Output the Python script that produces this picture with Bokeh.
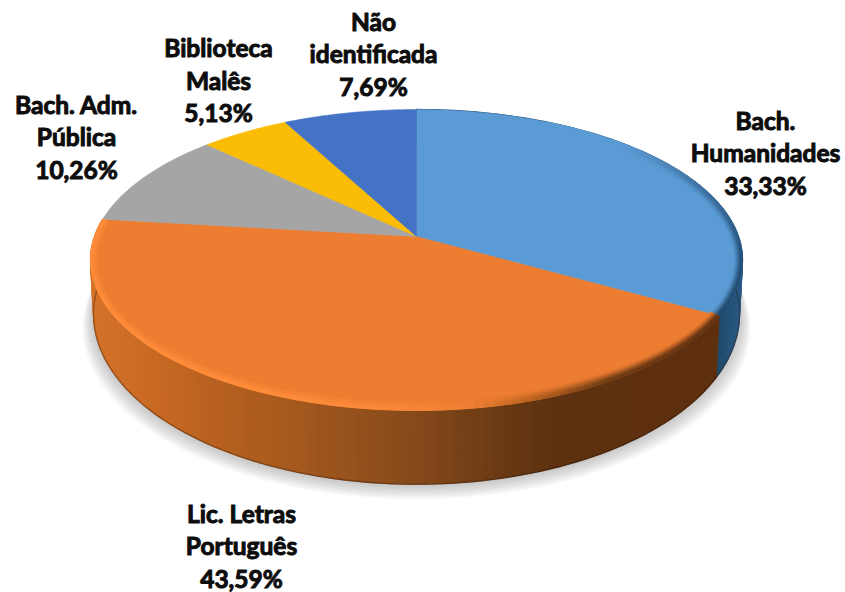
import numpy as np
from bokeh.plotting import figure
from bokeh.models import Range1d, ColumnDataSource
from bokeh.core.properties import value
from bokeh.embed import file_html
from bokeh.resources import INLINE

categories = ["Bach. Humanidades", "Lic. Letras Português", "Bach. Adm. Pública", "Biblioteca Malês", "Não identificada"]
percents = [33.33, 43.59, 10.26, 5.13, 7.69]
percent_labels = ["33,33%", "43,59%", "10,26%", "5,13%", "7,69%"]
label_lines = [["Bach.", "Humanidades"], ["Lic. Letras", "Português"], ["Bach. Adm.", "Pública"], ["Biblioteca", "Malês"], ["Não", "identificada"]]
slice_colors = ["#5B9BD5", "#ED7D31", "#A5A5A5", "#FBBC05", "#4472C4"]
# label layout: centre x and y of the first line, in page pixels
label_cx = [765, 241, 76, 218, 373]
label_y0 = [119.5, 512.5, 103.5, 47, 20.5]
LINE_STEP = 32.6

W, H = 845, 592
CX, K = 416.0, 0.156
TOP = dict(cy=236.0, rx=322.0, ry=146.8)
BOT = dict(cy=287.0, rx=319.0, ry=166.0)
EC_Y = 259.5


def hex2rgb(h):
    return np.array([int(h[i:i + 2], 16) for i in (1, 3, 5)], float)


def rgb2hex(c):
    return "#%02x%02x%02x" % tuple(int(round(v)) for v in c)


def ramp(t, ts, cols):
    arr = np.array([hex2rgb(c) for c in cols])
    return np.array([np.interp(t, ts, arr[:, i]) for i in range(3)])


def proj(deg, plane):
    a = np.radians(np.asarray(deg, float))
    u, v = np.sin(a), -np.cos(a)
    w = 1 - K * v
    return CX + plane["rx"] * u / w, plane["cy"] + plane["ry"] * v / w


edges = np.concatenate([[0], np.cumsum(percents)]) / sum(percents) * 360.0

# side shading along x (page pixels)
OR_SIDE_X = [90, 150, 210, 300, 400, 500, 550, 720]
OR_SIDE_C = ["#D4722A", "#C96A24", "#B8611F", "#A3581E", "#8A4B1B", "#6A3A14", "#5E3110", "#5E3010"]
OR_RIM_X = [90, 260, 400, 470, 535, 610, 720]
OR_RIM_C = ["#FF8D3A", "#FF8D3A", "#F98838", "#EF7F33", "#B5601F", "#6A3813", "#5E3010"]
BL_SIDE_X = [716, 742]
BL_SIDE_C = ["#1F4868", "#2A5A86"]
BL_RIM_A = [25, 45, 70, 95, 120]
BL_RIM_C = ["#5B9BD5", "#5B9BD5", "#3D6F9E", "#24507A", "#1F4868"]

# soft shadow: opaque rings, outermost (palest) first
SH_STEPS = 12
sh_x, sh_y, sh_c = [], [], []
ang = np.arange(0, 360, 2.0)
bx, by = proj(ang, BOT)
for i in range(SH_STEPS - 1, -1, -1):
    f = i / (SH_STEPS - 1)
    sh_x.append([float(v) for v in CX + (bx - CX) * (1 + 0.032 * f)])
    sh_y.append([float(v) for v in by + 1.0 + 13.5 * f])
    sh_c.append(rgb2hex(ramp(f, [0, 0.5, 1], ["#C8C8C8", "#DEDEDE", "#F9F9F9"])))

# side quads
sd_x, sd_y, sd_c = [], [], []
edge_x, edge_y = [], []
for k in range(2):
    a0, a1 = edges[k], edges[k + 1]
    n = int((a1 - a0) / 1.5)
    aa = np.linspace(a0, a1, n + 1)
    tx, ty = proj(aa, TOP)
    ux, uy = proj(aa, BOT)
    for i in range(n):
        mx = (tx[i] + tx[i + 1]) / 2
        if k == 0:
            col = ramp(mx, BL_SIDE_X, BL_SIDE_C)
        else:
            col = ramp(mx, OR_SIDE_X, OR_SIDE_C)
        sd_x.append([tx[i], tx[i + 1], ux[i + 1], ux[i]])
        sd_y.append([ty[i], ty[i + 1], uy[i + 1], uy[i]])
        sd_c.append(rgb2hex(col))
    edge_x.append(list(ux)); edge_y.append(list(uy))

# top faces
fx, fy, fc = [], [], []
for k, col in enumerate(slice_colors):
    aa = np.linspace(edges[k], edges[k + 1], max(3, int(edges[k + 1] - edges[k]) + 1))
    x, y = proj(aa, TOP)
    fx.append([CX] + list(x))
    fy.append([TOP["cy"]] + list(y))
    fc.append(col)

# bevel rings on the rim of the two front slices
LAYERS = 6
rx_, ry_, rc_ = [], [], []


def inner(x, y, s):
    return CX + (x - CX) * (1 - (1 - s) * 0.028), EC_Y + (y - EC_Y) * (1 - (1 - s) * 0.075)


for k in range(2):
    a0 = max(edges[k], 28) if k == 0 else edges[k]
    a1 = edges[k + 1]
    n = int((a1 - a0) / 1.5)
    aa = np.linspace(a0, a1, n + 1)
    x, y = proj(aa, TOP)
    face = hex2rgb(slice_colors[k])
    for i in range(n):
        mx = (x[i] + x[i + 1]) / 2
        ma = (aa[i] + aa[i + 1]) / 2
        rim = ramp(ma, BL_RIM_A, BL_RIM_C) if k == 0 else ramp(mx, OR_RIM_X, OR_RIM_C)
        for j in range(LAYERS):
            s0, s1 = j / LAYERS, (j + 1) / LAYERS
            t = (s0 + s1) / 2
            t = t * t * (3 - 2 * t)
            p0 = inner(x[i], y[i], s0); p1 = inner(x[i + 1], y[i + 1], s0)
            p2 = inner(x[i + 1], y[i + 1], s1); p3 = inner(x[i], y[i], s1)
            rx_.append([p0[0], p1[0], p2[0], p3[0]])
            ry_.append([p0[1], p1[1], p2[1], p3[1]])
            rc_.append(rgb2hex(face + (rim - face) * t))

p = figure(width=W, height=H, x_range=Range1d(0, W), y_range=Range1d(H, 0),
           toolbar_location=None, output_backend="svg", min_border=0)
p.xaxis.visible = False
p.yaxis.visible = False
p.grid.visible = False
p.outline_line_color = None

p.patches(xs="x", ys="y", fill_color="c", line_color="c", line_width=1,
          source=ColumnDataSource(dict(x=sh_x, y=sh_y, c=sh_c)))
p.patches(xs="x", ys="y", fill_color="c", line_color="c", line_width=1.3,
          source=ColumnDataSource(dict(x=sd_x, y=sd_y, c=sd_c)))
p.multi_line(xs=edge_x, ys=edge_y, line_color="#2a1505", line_alpha=0.35, line_width=1.4)
p.patches(xs="x", ys="y", fill_color="c", line_color="c", line_width=0.5,
          source=ColumnDataSource(dict(x=fx, y=fy, c=fc)))
p.patches(xs="x", ys="y", fill_color="c", line_color="c", line_width=0.9,
          source=ColumnDataSource(dict(x=rx_, y=ry_, c=rc_)))

tx_, ty_, tt_ = [], [], []
for lines, pct, cx, y0 in zip(label_lines, percent_labels, label_cx, label_y0):
    for i, t in enumerate(lines + [pct]):
        tx_.append(cx); ty_.append(y0 + i * LINE_STEP); tt_.append(t)
p.text(x="x", y="y", text="t", source=ColumnDataSource(dict(x=tx_, y=ty_, t=tt_)),
       text_font=value("Lato"), text_font_style="bold", text_font_size="24.5px",
       text_color="#0d0d0d", text_align="center", text_baseline="middle",
       text_outline_color="#0d0d0d")

open("out.html", "w").write(file_html(p, INLINE))
